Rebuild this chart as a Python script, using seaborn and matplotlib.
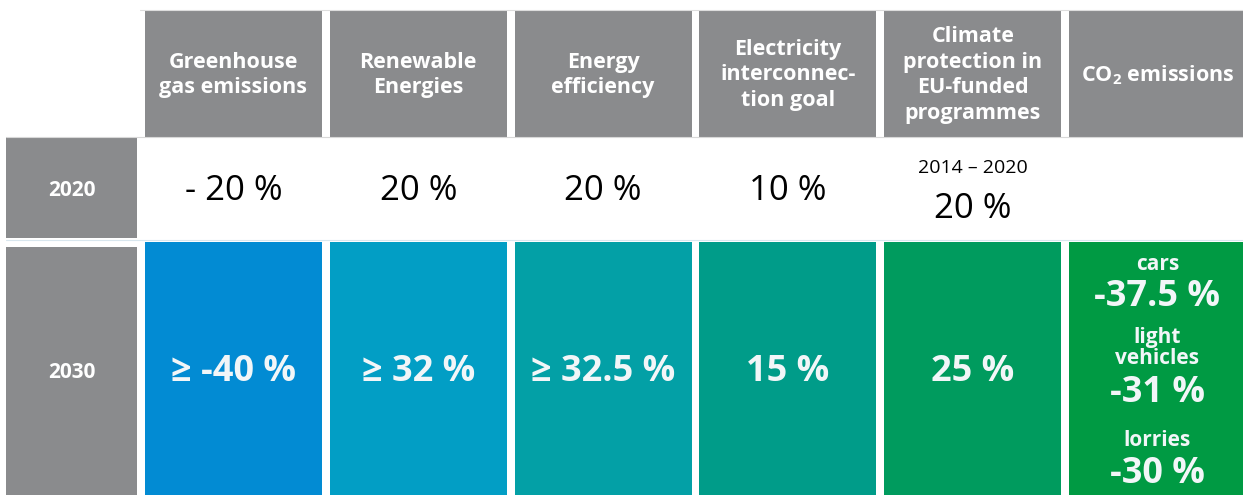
import seaborn as sns
import matplotlib.pyplot as plt
from matplotlib.patches import Rectangle

# chart content
categories = ["Greenhouse\ngas emissions", "Renewable\nEnergies", "Energy\nefficiency",
              "Electricity\ninterconnec-\ntion goal", "Climate\nprotection in\nEU-funded\nprogrammes",
              "CO$_\\mathregular{2}$ emissions"]
years = ["2020", "2030"]
values_2020 = ["- 20 %", "20 %", "20 %", "10 %", "20 %", ""]
notes_2020 = ["", "", "", "", "2014 – 2020", ""]
values_2030 = ["≥ -40 %", "≥ 32 %", "≥ 32.5 %", "15 %", "25 %", ""]
co2_labels = ["cars", "light\nvehicles", "lorries"]
co2_values = ["-37.5 %", "-31 %", "-30 %"]
colors_2030 = ["#028bd3", "#029ec5", "#03a0a6", "#009c89", "#009b5e", "#009a43"]
gray = "#8a8b8d"

sns.set_theme(style="white")
plt.rcParams["font.family"] = ["Open Sans", "DejaVu Sans"]

fig = plt.figure(figsize=(12.43, 4.95), dpi=100)
ax = fig.add_axes([0, 0, 1, 1])
ax.set_xlim(0, 1243)
ax.set_ylim(495, 0)
ax.axis("off")

# layout (pixels)
col_x0, col_w, col_pitch = 145, 177, 184.8
head_top, head_bot = 10, 137
r20_top, r20_bot = 137, 238
r30_top, r30_bot = 242, 495
lab_x0, lab_w = 6, 131
white = "#f2f6f8"

# faint grid lines
ax.plot([140, 1243], [head_top, head_top], color="#dddddd", lw=0.8)
ax.plot([lab_x0, 1243], [r20_top, r20_top], color="#d8d8d8", lw=0.8)
ax.plot([lab_x0, 1243], [r20_bot + 2, r20_bot + 2], color="#d8e6ee", lw=0.8)

# row labels
ax.add_patch(Rectangle((lab_x0, r20_top), lab_w, r20_bot - r20_top, color=gray, lw=0))
ax.add_patch(Rectangle((lab_x0, r30_top + 5), lab_w, r30_bot - r30_top - 5, color=gray, lw=0))
ax.text(lab_x0 + lab_w / 2, 190, years[0], color="white",
        fontsize=15, fontweight="bold", ha="center", va="center")
ax.text(lab_x0 + lab_w / 2, 372, years[1], color="white",
        fontsize=15, fontweight="bold", ha="center", va="center")

for i, cat in enumerate(categories):
    x0 = col_x0 + i * col_pitch
    cx = x0 + col_w / 2
    # header
    ax.add_patch(Rectangle((x0, head_top), col_w, head_bot - head_top, color=gray, lw=0))
    ax.text(cx, 75, cat, color="white", fontsize=15.5, fontweight="bold",
            ha="center", va="center", linespacing=1.28)
    # 2020 row
    if notes_2020[i]:
        ax.text(cx, 168, notes_2020[i], color="black", fontsize=14, ha="center", va="center")
        ax.text(cx, 209, values_2020[i], color="black", fontsize=25, ha="center", va="center")
    elif values_2020[i]:
        ax.text(cx, 191, values_2020[i], color="black", fontsize=25, ha="center", va="center")
    # 2030 row
    ax.add_patch(Rectangle((x0, r30_top), col_w, r30_bot - r30_top, color=colors_2030[i], lw=0))
    if values_2030[i]:
        ax.text(cx, 372, values_2030[i], color=white, fontsize=26, fontweight="bold",
                ha="center", va="center")

# CO2 breakdown
cx = col_x0 + 5 * col_pitch + col_w / 2
label_y = [265, 348, 440]
value_y = [297, 393, 474]
for lab, val, ly, vy in zip(co2_labels, co2_values, label_y, value_y):
    ax.text(cx, ly, lab, color=white, fontsize=15, fontweight="bold",
            ha="center", va="center", linespacing=1.0)
    ax.text(cx, vy, val, color=white, fontsize=26, fontweight="bold",
            ha="center", va="center")

fig.savefig("out.png", dpi=100)
